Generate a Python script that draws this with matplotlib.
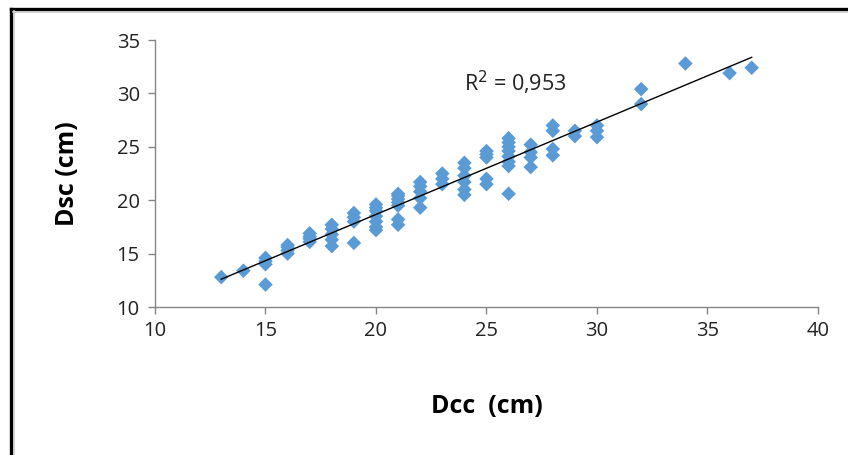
import numpy as np
import matplotlib
matplotlib.use("Agg")
import matplotlib.pyplot as plt
from matplotlib.lines import Line2D

plt.rcParams['font.family'] = ['Open Sans', 'DejaVu Sans']

# Data (Dcc vs Dsc, cm)
dcc = [13, 14,
       15, 15, 15, 15,
       16, 16, 16, 16,
       17, 17, 17, 17,
       18, 18, 18, 18, 18,
       19, 19, 19, 19,
       20, 20, 20, 20, 20, 20, 20,
       21, 21, 21, 21, 21, 21, 21,
       22, 22, 22, 22, 22,
       23, 23, 23,
       24, 24, 24, 24, 24, 24,
       25, 25, 25, 25, 25,
       26, 26, 26, 26, 26, 26, 26, 26,
       27, 27, 27, 27,
       28, 28, 28, 28,
       29, 29,
       30, 30, 30,
       32, 32,
       34, 36, 37]
dsc = [12.8, 13.4,
       14.0, 14.3, 14.6, 12.1,
       15.0, 15.3, 15.6, 15.8,
       16.1, 16.4, 16.6, 16.9,
       15.7, 16.3, 16.8, 17.3, 17.7,
       16.0, 18.0, 18.4, 18.8,
       17.2, 17.5, 18.0, 18.5, 19.0, 19.3, 19.6,
       17.7, 18.2, 19.5, 19.8, 20.1, 20.4, 20.6,
       19.3, 20.2, 20.8, 21.3, 21.7,
       21.5, 22.0, 22.5,
       20.5, 21.0, 21.7, 22.3, 23.0, 23.5,
       21.5, 22.0, 24.0, 24.3, 24.6,
       20.6, 23.2, 23.6, 24.1, 24.6, 25.0, 25.4, 25.8,
       23.1, 24.0, 24.5, 25.2,
       24.2, 24.8, 26.5, 27.0,
       26.0, 26.5,
       25.9, 26.5, 27.0,
       29.0, 30.4,
       32.8, 31.9, 32.4]
r2_label = "R$^2$ = 0,953"
x_ticks = [10, 15, 20, 25, 30, 35, 40]
y_ticks = [10, 15, 20, 25, 30, 35]

fig = plt.figure(figsize=(8.48, 4.55), dpi=100)
ax = fig.add_axes([155/848, 1-307/455, (818-155)/848, (307-40)/455])

ax.scatter(dcc, dsc, marker='D', s=55, color='#5B9BD5', edgecolors='none', zorder=3)

coef = np.polyfit(dcc, dsc, 1)
xl = np.array([min(dcc), max(dcc)])
ax.plot(xl, np.polyval(coef, xl), color='black', lw=1.0, zorder=4)

ax.text(26.3, 31.0, r2_label, ha='center', va='center', fontsize=15.5, color='#222222')

ax.set_xlim(10, 40)
ax.set_ylim(10, 35)
ax.set_xticks(x_ticks)
ax.set_yticks(y_ticks)
for s in ['top', 'right']:
    ax.spines[s].set_visible(False)
for s in ['left', 'bottom']:
    ax.spines[s].set_color('#868686')
    ax.spines[s].set_linewidth(1.0)
ax.tick_params(axis='both', direction='out', length=5, width=1, color='#868686',
               labelsize=14.5, labelcolor='#222222')
ax.tick_params(axis='x', pad=5)
ax.tick_params(axis='y', pad=6)

ax.set_xlabel('Dcc  (cm)', fontsize=18, fontweight='bold', labelpad=38)
ax.set_ylabel('Dsc (cm)', fontsize=18, fontweight='bold', labelpad=26)

# Outer frame (black line with grey shadow on left and top)
W, H = 848, 455
fig.add_artist(Line2D([11/W, 11/W], [0, 1-9/H], color='black', lw=2.4, transform=fig.transFigure))
fig.add_artist(Line2D([11/W, 1], [1-9/H, 1-9/H], color='black', lw=2.4, transform=fig.transFigure))
fig.add_artist(Line2D([14/W, 14/W], [0, 1-11/H], color='#c8c8c8', lw=1.2, transform=fig.transFigure))
fig.add_artist(Line2D([13/W, 1], [1-12/H, 1-12/H], color='#c8c8c8', lw=1.2, transform=fig.transFigure))

fig.savefig('out.png', dpi=100)
